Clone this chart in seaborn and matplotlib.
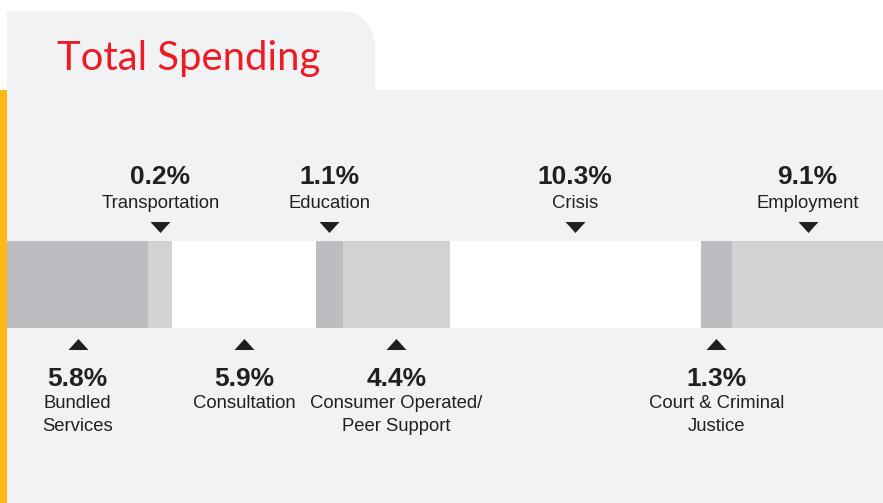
import numpy as np
import matplotlib
matplotlib.use("Agg")
import matplotlib.pyplot as plt
from matplotlib.patches import Rectangle, Circle
from matplotlib.path import Path
import seaborn as sns

# %% data
categories = ["Bundled\nServices", "Transportation", "Consultation", "Education",
              "Consumer Operated/\nPeer Support", "Crisis", "Court & Criminal\nJustice",
              "Employment"]
shares = [5.8, 0.2, 5.9, 1.1, 4.4, 10.3, 1.3, 9.1]
seg_colors = ["#bcbdc0", "#d1d2d4", "#ffffff", "#bcbdc0",
              "#d1d2d4", "#ffffff", "#bcbdc0", "#d1d2d4"]
label_side = ["below", "above", "below", "above", "below", "above", "below", "above"]

# tiny slices get a minimum visible width, like in the printed graphic
shown = np.maximum(shares, 1.0)
ends = np.cumsum(shown)
starts = ends - shown
XMAX = 36.0

W, H = 883, 503
sns.set_theme(style="white")
plt.rcParams["font.family"] = ["Liberation Sans", "DejaVu Sans"]
fig = plt.figure(figsize=(W / 100, H / 100), dpi=100)
fig.patch.set_facecolor("white")

# %% background (pixel coords)
bg = fig.add_axes([0, 0, 1, 1])
bg.set_xlim(0, W)
bg.set_ylim(H, 0)
bg.axis("off")
panel = "#f1f2f4"
bg.add_patch(Rectangle((7, 90), W - 7, H - 90, color=panel, lw=0))
bg.add_patch(Rectangle((0, 90), 7, H - 90, color="#fdb913", lw=0))
r = 33
bg.add_patch(Rectangle((7, 11), 375 - r - 7, 80, color=panel, lw=0))
bg.add_patch(Rectangle((7, 11 + r), 375 - 7, 80 - r, color=panel, lw=0))
bg.add_patch(Circle((375 - r, 11 + r), r, color=panel, lw=0))
bg.text(57, 70, "Total Spending", color="#ed1c24", fontsize=28.8,
        family=["Lato", "DejaVu Sans"], va="baseline", ha="left")

# %% strip of segments
ax = fig.add_axes([7 / W, 0, (W - 7) / W, 1])
ax.patch.set_alpha(0)
# overlay cumulative bars from longest to shortest -> stacked strip
for i in range(len(shares) - 1, -1, -1):
    sns.barplot(x=[ends[i]], y=["Total"], color=seg_colors[i], saturation=1,
                width=1.0, orient="h", ax=ax, linewidth=0)
ax.set_xlim(0, XMAX)
BAR_C, BAR_H = 284.5, 87.0
ax.set_ylim((H - BAR_C) / BAR_H, -BAR_C / BAR_H)
ax.axis("off")


def py(p):
    return (p - BAR_C) / BAR_H


down = Path([(-1, 0.55), (1, 0.55), (0, -0.55), (-1, 0.55)])
up = Path([(-1, -0.55), (1, -0.55), (0, 0.55), (-1, -0.55)])
ink = "#231f20"

for i, cat in enumerate(categories):
    cx = (starts[i] + min(ends[i], XMAX)) / 2
    pct = f"{shares[i]:.1f}%"
    if label_side[i] == "above":
        ax.scatter([cx], [py(226.5)], marker=down, s=14.4 ** 2, color=ink, lw=0)
        ax.text(cx, py(184), pct, ha="center", va="baseline", fontsize=19,
                fontweight="bold", color=ink)
        ax.text(cx, py(208), cat, ha="center", va="baseline", fontsize=13.3,
                color=ink)
    else:
        ax.scatter([cx], [py(344)], marker=up, s=14.4 ** 2, color=ink, lw=0)
        ax.text(cx, py(386), pct, ha="center", va="baseline", fontsize=19,
                fontweight="bold", color=ink)
        ax.text(cx, py(395), cat, ha="center", va="top", fontsize=13.3,
                color=ink, linespacing=1.43)

fig.savefig("out.png", dpi=100)
